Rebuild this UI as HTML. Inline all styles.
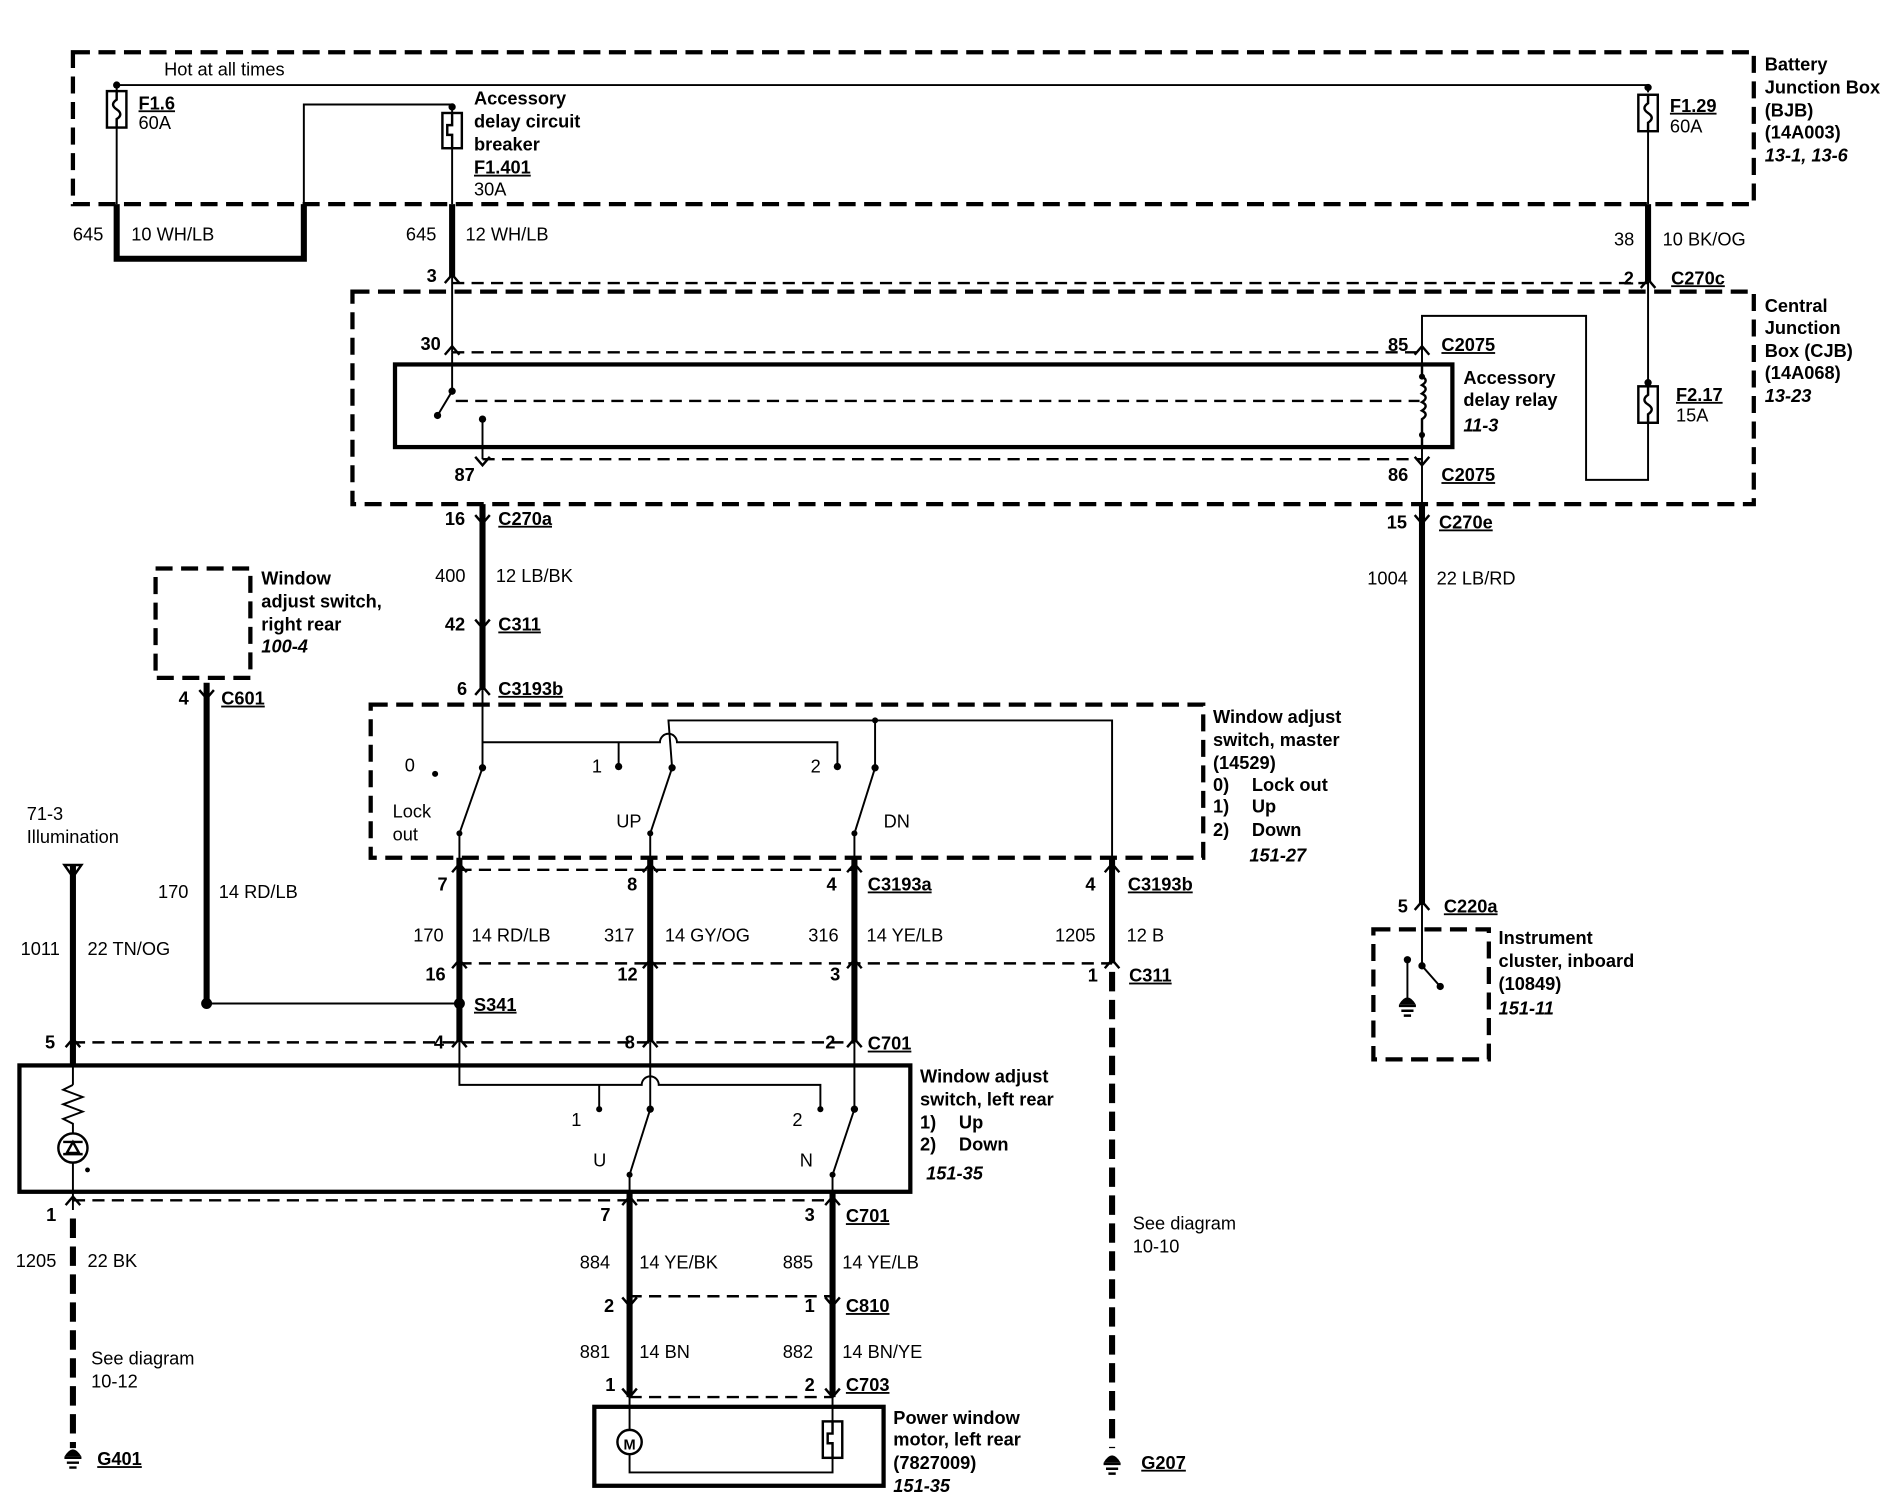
<!DOCTYPE html>
<html><head><meta charset="utf-8"><style>
html,body{margin:0;padding:0;background:#fff;}
svg{display:block;}
text{font-family:"Liberation Sans",Arial,sans-serif;font-size:15px;fill:#000;}
.b{font-weight:bold;}
.i{font-weight:bold;font-style:italic;}
.u{text-decoration:underline;}
</style></head><body>
<svg width="1896" height="1504" viewBox="0 0 1560 1238" preserveAspectRatio="none" xmlns="http://www.w3.org/2000/svg">
<g fill="none" stroke="#000">
<g stroke-width="3.5" stroke-dasharray="14,7">
<rect x="60" y="43" width="1383" height="125"/>
<rect x="290" y="240" width="1153" height="175"/>
<rect x="128" y="468" width="78" height="90"/>
<rect x="305" y="580" width="685" height="126"/>
<rect x="1130" y="765" width="95" height="107"/>
</g>
<g stroke-width="2" stroke-dasharray="10,6">
<line x1="372" y1="233" x2="1356" y2="233"/>
<line x1="372" y1="290" x2="1170" y2="290"/>
<line x1="397" y1="378" x2="1170" y2="378"/>
<line x1="375" y1="330" x2="1168" y2="330"/>
<line x1="378" y1="716" x2="703" y2="716"/>
<line x1="378" y1="793" x2="915" y2="793"/>
<line x1="60" y1="858" x2="703" y2="858"/>
<line x1="60" y1="988" x2="685" y2="988"/>
<line x1="518" y1="1067" x2="685" y2="1067"/>
<line x1="518" y1="1150" x2="685" y2="1150"/>
</g>
<rect x="325" y="300" width="870" height="68" stroke-width="3.5"/>
<rect x="16" y="877" width="733" height="104" stroke-width="3.5"/>
<rect x="489" y="1158" width="238" height="65" stroke-width="3.5"/>
<g stroke-width="1.6">
<polyline points="96,105 96,70 1356,70 1356,76"/>
<line x1="96" y1="105" x2="96" y2="168"/>
<polyline points="250,168 250,86 372,86 372,93"/>
<line x1="372" y1="122" x2="372" y2="168"/>
<line x1="372" y1="228" x2="372" y2="290"/>
<polyline points="372,290 372,322 360,342"/>
<polyline points="397,345 397,378"/>
<line x1="1356" y1="108" x2="1356" y2="168"/>
<line x1="1356" y1="232" x2="1356" y2="318"/>
<polyline points="1356,348 1356,395 1305,395 1305,260 1170,260 1170,300"/>
<line x1="1170" y1="368" x2="1170" y2="415"/>
<line x1="397" y1="568" x2="397" y2="632"/>
<path d="M397,611 L543,611 A7,7 0 0 1 557,611 L689,611 L689,631"/>
<line x1="509" y1="611" x2="509" y2="631"/>
<polyline points="553,632 550,593 915,593 915,706"/>
<line x1="720" y1="593" x2="720" y2="632"/>
<line x1="397" y1="632" x2="378" y2="686"/>
<line x1="553" y1="632" x2="535" y2="686"/>
<line x1="720" y1="632" x2="703" y2="686"/>
<line x1="378" y1="686" x2="378" y2="716"/>
<line x1="535" y1="686" x2="535" y2="716"/>
<line x1="703" y1="686" x2="703" y2="716"/>
<line x1="170" y1="826" x2="378" y2="826"/>
<path d="M378,858 L378,893 L528,893 A7,7 0 0 1 542,893 L675,893 L675,913"/>
<line x1="493" y1="893" x2="493" y2="913"/>
<line x1="535" y1="858" x2="535" y2="913"/>
<line x1="703" y1="858" x2="703" y2="913"/>
<line x1="535" y1="913" x2="518" y2="967"/>
<line x1="703" y1="913" x2="685" y2="967"/>
<line x1="518" y1="967" x2="518" y2="996"/>
<line x1="685" y1="967" x2="685" y2="996"/>
<line x1="60" y1="877" x2="60" y2="893"/>
<polyline points="60,893 52,897 68,903 52,909 68,915 52,921 60,925 60,933"/>
<line x1="60" y1="957" x2="60" y2="996"/>
<line x1="518" y1="1150" x2="518" y2="1177"/>
<polyline points="518,1197 518,1212 685,1212 685,1200"/>
<line x1="685" y1="1150" x2="685" y2="1170"/>
<line x1="1170" y1="745" x2="1170" y2="795"/>
<line x1="1170" y1="795" x2="1185" y2="812"/>
<line x1="1158" y1="790" x2="1158" y2="822"/>
</g>
<g stroke-width="5">
<polyline points="96,168 96,213 250,213 250,168"/>
<line x1="372" y1="168" x2="372" y2="228"/>
<line x1="1356" y1="168" x2="1356" y2="232"/>
<line x1="397" y1="415" x2="397" y2="568"/>
<line x1="1170" y1="415" x2="1170" y2="745"/>
<line x1="170" y1="562" x2="170" y2="826"/>
<line x1="378" y1="706" x2="378" y2="858"/>
<line x1="535" y1="706" x2="535" y2="858"/>
<line x1="703" y1="706" x2="703" y2="858"/>
<line x1="915" y1="706" x2="915" y2="793"/>
<line x1="60" y1="712" x2="60" y2="877"/>
<line x1="518" y1="981" x2="518" y2="1150"/>
<line x1="685" y1="981" x2="685" y2="1150"/>
</g>
<g stroke-width="5" stroke-dasharray="16,7">
<line x1="915" y1="800" x2="915" y2="1192"/>
<line x1="60" y1="1003" x2="60" y2="1192"/>
</g>
<g stroke-width="2">
<rect x="88" y="75" width="16" height="30" fill="#fff"/>
<path d="M96,75 v7 q-6,4 0,8 q6,4 0,8 v7"/>
<rect x="364" y="93" width="16" height="29" fill="#fff"/>
<path d="M372,93 v10 h-4 v8 h4 v11"/>
<rect x="1348" y="78" width="16" height="30" fill="#fff"/>
<path d="M1356,78 v7 q-6,4 0,8 q6,4 0,8 v7"/>
<rect x="1348" y="318" width="16" height="30" fill="#fff"/>
<path d="M1356,318 v7 q-6,4 0,8 q6,4 0,8 v7"/>
<rect x="677" y="1170" width="16" height="30" fill="#fff"/>
<path d="M685,1170 v10 h-4 v8 h4 v12"/>
<path d="M1170,300 v10 q6,3 0,7 q6,3 0,7 q6,3 0,7 q6,3 0,7 q6,3 0,7 v23"/>
<circle cx="518" cy="1187" r="10" fill="#fff"/>
<circle cx="60" cy="945" r="12"/>
<path d="M52,940 h16 M60,940 l-5,9 h10 z M52,950 h16"/>
<path d="M53,712 h14 l-7,10 z M60,712 v10"/>
</g>
<g stroke-width="2">
<path d="M366,233 l6,-7 l6,7 M1350,237 l6,-7 l6,7 M366,292 l6,-7 l6,7 M1164,292 l6,-7 l6,7 M391,572 l6,-7 l6,7 M909,718 l6,-7 l6,7 M372,718 l6,-7 l6,7 M529,718 l6,-7 l6,7 M697,718 l6,-7 l6,7 M372,797 l6,-7 l6,7 M529,797 l6,-7 l6,7 M697,797 l6,-7 l6,7 M909,797 l6,-7 l6,7 M54,862 l6,-7 l6,7 M372,862 l6,-7 l6,7 M529,862 l6,-7 l6,7 M697,862 l6,-7 l6,7 M1164,749 l6,-7 l6,7 M54,992 l6,-7 l6,7 M512,992 l6,-7 l6,7 M679,992 l6,-7 l6,7"/>
<path d="M391,376 l6,7 l6,-7 M1164,376 l6,7 l6,-7 M391,424 l6,7 l6,-7 M1164,424 l6,7 l6,-7 M391,510 l6,7 l6,-7 M164,568 l6,7 l6,-7 M512,1068 l6,7 l6,-7 M679,1068 l6,7 l6,-7 M512,1143 l6,7 l6,-7 M679,1143 l6,7 l6,-7"/>
</g>
<g stroke-width="2">
<path d="M53,1200 h14 M55,1204 h10 M57,1208 h6"/>
<path d="M908,1205 h14 M910,1209 h10 M912,1213 h6"/>
<path d="M1151,828 h14 M1153,832 h10 M1155,836 h6"/>
</g>
<g fill="#000" stroke="none">
<path d="M53,1199 q7,-12 14,0z M908,1204 q7,-12 14,0z M1151,827 q7,-12 14,0z"/>
<circle cx="96" cy="70" r="3"/><circle cx="372" cy="88" r="3"/><circle cx="1356" cy="72" r="3"/><circle cx="1356" cy="315" r="3"/>
<circle cx="372" cy="322" r="3"/><circle cx="360" cy="342" r="3"/><circle cx="397" cy="345" r="3"/>
<circle cx="1170" cy="310" r="2.5"/><circle cx="1170" cy="358" r="2.5"/>
<circle cx="397" cy="632" r="3"/><circle cx="553" cy="632" r="3"/><circle cx="720" cy="632" r="3"/><circle cx="509" cy="631" r="3"/><circle cx="689" cy="631" r="3"/><circle cx="358" cy="637" r="2.5"/>
<circle cx="378" cy="686" r="2.5"/><circle cx="535" cy="686" r="2.5"/><circle cx="703" cy="686" r="2.5"/><circle cx="720" cy="593" r="2.5"/>
<circle cx="170" cy="826" r="4.5"/><circle cx="378" cy="826" r="4.5"/>
<circle cx="493" cy="913" r="2.5"/><circle cx="675" cy="913" r="2.5"/><circle cx="535" cy="913" r="3"/><circle cx="703" cy="913" r="3"/><circle cx="518" cy="967" r="2.5"/><circle cx="685" cy="967" r="2.5"/>
<circle cx="1170" cy="795" r="3"/><circle cx="1185" cy="812" r="3"/><circle cx="1158" cy="790" r="3"/>
<circle cx="72" cy="963" r="2"/>
</g>
</g>
<text x="518" y="1193" text-anchor="middle" style="font-size:12px;font-weight:bold">M</text>

<text x="135" y="62">Hot at all times</text>
<text x="114" y="90" class="b u">F1.6</text><text x="114" y="106">60A</text>
<text x="390" y="86" class="b">Accessory</text>
<text x="390" y="105" class="b">delay circuit</text>
<text x="390" y="124" class="b">breaker</text>
<text x="390" y="143" class="b u">F1.401</text>
<text x="390" y="161">30A</text>
<text x="1374" y="92" class="b u">F1.29</text><text x="1374" y="109">60A</text>
<text x="1452" y="58" class="b">Battery</text>
<text x="1452" y="77" class="b">Junction Box</text>
<text x="1452" y="96" class="b">(BJB)</text>
<text x="1452" y="114" class="b">(14A003)</text>
<text x="1452" y="133" class="i">13-1, 13-6</text>
<text x="60" y="198">645</text><text x="108" y="198">10  WH/LB</text>
<text x="334" y="198">645</text><text x="383" y="198">12  WH/LB</text>
<text x="1328" y="202">38</text><text x="1368" y="202">10  BK/OG</text>
<text x="351" y="232" class="b">3</text>
<text x="1336" y="234" class="b">2</text><text x="1375" y="234" class="b u">C270c</text>
<text x="1452" y="257" class="b">Central</text>
<text x="1452" y="275" class="b">Junction</text>
<text x="1452" y="294" class="b">Box (CJB)</text>
<text x="1452" y="312" class="b">(14A068)</text>
<text x="1452" y="331" class="i">13-23</text>
<text x="346" y="288" class="b">30</text>
<text x="1142" y="289" class="b">85</text><text x="1186" y="289" class="b u">C2075</text>
<text x="1204" y="316" class="b">Accessory</text>
<text x="1204" y="334" class="b">delay relay</text>
<text x="1204" y="355" class="i">11-3</text>
<text x="1379" y="330" class="b u">F2.17</text><text x="1379" y="347">15A</text>
<text x="374" y="396" class="b">87</text>
<text x="1142" y="396" class="b">86</text><text x="1186" y="396" class="b u">C2075</text>
<text x="366" y="432" class="b">16</text><text x="410" y="432" class="b u">C270a</text>
<text x="1141" y="435" class="b">15</text><text x="1184" y="435" class="b u">C270e</text>
<text x="358" y="479">400</text><text x="408" y="479">12  LB/BK</text>
<text x="1125" y="481">1004</text><text x="1182" y="481">22  LB/RD</text>
<text x="366" y="519" class="b">42</text><text x="410" y="519" class="b u">C311</text>
<text x="376" y="572" class="b">6</text><text x="410" y="572" class="b u">C3193b</text>
<text x="215" y="481" class="b">Window</text>
<text x="215" y="500" class="b">adjust switch,</text>
<text x="215" y="519" class="b">right rear</text>
<text x="215" y="537" class="i">100-4</text>
<text x="147" y="580" class="b">4</text><text x="182" y="580" class="b u">C601</text>
<text x="998" y="595" class="b">Window adjust</text>
<text x="998" y="614" class="b">switch, master</text>
<text x="998" y="633" class="b">(14529)</text>
<text x="998" y="651" class="b">0)</text><text x="1030" y="651" class="b">Lock out</text>
<text x="998" y="669" class="b">1)</text><text x="1030" y="669" class="b">Up</text>
<text x="998" y="688" class="b">2)</text><text x="1030" y="688" class="b">Down</text>
<text x="1028" y="709" class="i">151-27</text>
<text x="333" y="635">0</text>
<text x="487" y="636">1</text><text x="667" y="636">2</text>
<text x="323" y="673">Lock</text><text x="323" y="692">out</text>
<text x="507" y="681">UP</text><text x="727" y="681">DN</text>
<text x="22" y="675">71-3</text><text x="22" y="694">Illumination</text>
<text x="130" y="739">170</text><text x="180" y="739">14  RD/LB</text>
<text x="360" y="733" class="b">7</text><text x="516" y="733" class="b">8</text><text x="680" y="733" class="b">4</text><text x="714" y="733" class="b u">C3193a</text>
<text x="893" y="733" class="b">4</text><text x="928" y="733" class="b u">C3193b</text>
<text x="17" y="786">1011</text><text x="72" y="786">22  TN/OG</text>
<text x="340" y="775">170</text><text x="388" y="775">14  RD/LB</text>
<text x="497" y="775">317</text><text x="547" y="775">14  GY/OG</text>
<text x="665" y="775">316</text><text x="713" y="775">14  YE/LB</text>
<text x="868" y="775">1205</text><text x="927" y="775">12  B</text>
<text x="350" y="807" class="b">16</text><text x="508" y="807" class="b">12</text><text x="683" y="807" class="b">3</text>
<text x="895" y="808" class="b">1</text><text x="929" y="808" class="b u">C311</text>
<text x="390" y="832" class="b u">S341</text>
<text x="1150" y="751" class="b">5</text><text x="1188" y="751" class="b u">C220a</text>
<text x="1233" y="777" class="b">Instrument</text>
<text x="1233" y="796" class="b">cluster, inboard</text>
<text x="1233" y="815" class="b">(10849)</text>
<text x="1233" y="835" class="i">151-11</text>
<text x="37" y="863" class="b">5</text><text x="357" y="863" class="b">4</text><text x="514" y="863" class="b">8</text><text x="679" y="863" class="b">2</text><text x="714" y="864" class="b u">C701</text>
<text x="757" y="891" class="b">Window adjust</text>
<text x="757" y="910" class="b">switch, left rear</text>
<text x="757" y="929" class="b">1)</text><text x="789" y="929" class="b">Up</text>
<text x="757" y="947" class="b">2)</text><text x="789" y="947" class="b">Down</text>
<text x="762" y="971" class="i">151-35</text>
<text x="470" y="927">1</text><text x="652" y="927">2</text>
<text x="488" y="960">U</text><text x="658" y="960">N</text>
<text x="38" y="1005" class="b">1</text><text x="494" y="1005" class="b">7</text><text x="662" y="1005" class="b">3</text><text x="696" y="1006" class="b u">C701</text>
<text x="13" y="1043">1205</text><text x="72" y="1043">22  BK</text>
<text x="477" y="1044">884</text><text x="526" y="1044">14  YE/BK</text>
<text x="644" y="1044">885</text><text x="693" y="1044">14  YE/LB</text>
<text x="932" y="1012">See diagram</text><text x="932" y="1031">10-10</text>
<text x="497" y="1080" class="b">2</text><text x="662" y="1080" class="b">1</text><text x="696" y="1080" class="b u">C810</text>
<text x="477" y="1118">881</text><text x="526" y="1118">14  BN</text>
<text x="644" y="1118">882</text><text x="693" y="1118">14  BN/YE</text>
<text x="75" y="1123">See diagram</text><text x="75" y="1142">10-12</text>
<text x="498" y="1145" class="b">1</text><text x="662" y="1145" class="b">2</text><text x="696" y="1145" class="b u">C703</text>
<text x="735" y="1172" class="b">Power window</text>
<text x="735" y="1190" class="b">motor, left rear</text>
<text x="735" y="1209" class="b">(7827009)</text>
<text x="735" y="1228" class="i">151-35</text>
<text x="80" y="1206" class="b u">G401</text>
<text x="939" y="1209" class="b u">G207</text>
</svg>
</body></html>
